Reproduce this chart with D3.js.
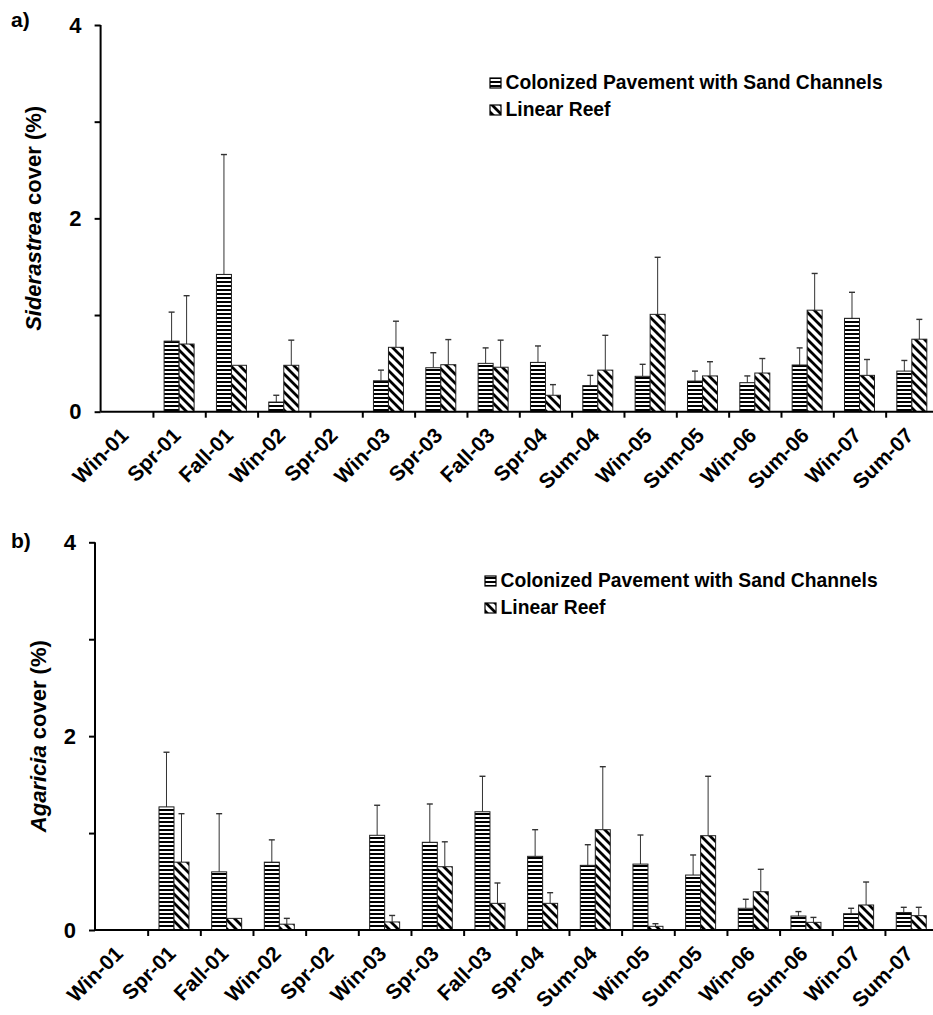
<!DOCTYPE html>
<html>
<head>
<meta charset="utf-8">
<script src="https://cdn.jsdelivr.net/npm/d3@7"></script>
<style>
  html, body { margin: 0; padding: 0; background: #fff; }
  svg { display: block; font-family: "Liberation Sans", Arial, sans-serif; }
</style>
</head>
<body>
<svg id="chart" width="933" height="1015"></svg>
<script>
// ---------------- data ----------------
const categories = ["Win-01","Spr-01","Fall-01","Win-02","Spr-02","Win-03","Spr-03","Fall-03","Spr-04","Sum-04","Win-05","Sum-05","Win-06","Sum-06","Win-07","Sum-07"];
const seriesNames = ["Colonized Pavement with Sand Channels", "Linear Reef"];
const yTicks = [0, 1, 2, 3, 4];
const yTickLabels = ["0", "", "2", "", "4"];

// Panel a: Siderastrea
const sidCP    = [0, 0.73, 1.42, 0.10, 0, 0.32, 0.455, 0.50, 0.51, 0.27, 0.366, 0.317, 0.30, 0.483, 0.966, 0.42];
const sidCPErr = [0, 0.30, 1.24, 0.07, 0, 0.11, 0.155, 0.16, 0.17, 0.106, 0.124, 0.103, 0.07, 0.177, 0.269, 0.11];
const sidLR    = [0, 0.70, 0.48, 0.48, 0, 0.666, 0.486, 0.46, 0.17, 0.43, 1.007, 0.37, 0.40, 1.05, 0.376, 0.75];
const sidLRErr = [0, 0.50, 0, 0.26, 0, 0.27, 0.26, 0.28, 0.11, 0.36, 0.59, 0.147, 0.15, 0.38, 0.164, 0.205];

// Panel b: Agaricia
const agaCP    = [0, 1.27, 0.60, 0.70, 0, 0.977, 0.905, 1.22, 0.76, 0.667, 0.68, 0.567, 0.224, 0.144, 0.168, 0.18];
const agaCPErr = [0, 0.564, 0.60, 0.23, 0, 0.31, 0.395, 0.366, 0.275, 0.213, 0.30, 0.207, 0.093, 0.046, 0.056, 0.054];
const agaLR    = [0, 0.70, 0.12, 0.06, 0, 0.083, 0.653, 0.275, 0.275, 1.035, 0.038, 0.973, 0.395, 0.079, 0.258, 0.148];
const agaLRErr = [0, 0.50, 0, 0.06, 0, 0.067, 0.257, 0.21, 0.11, 0.65, 0.027, 0.613, 0.231, 0.051, 0.237, 0.086];

// ---------------- drawing ----------------
const svg = d3.select("#chart");
const defs = svg.append("defs");

// horizontal stripes
const pH = defs.append("pattern").attr("id", "stripeH").attr("patternUnits", "userSpaceOnUse")
  .attr("width", 6).attr("height", 4);
pH.append("rect").attr("width", 6).attr("height", 4).attr("fill", "#fff");
pH.append("rect").attr("y", 1).attr("width", 6).attr("height", 2).attr("fill", "#000");

// diagonal "\" hatch
const pD = defs.append("pattern").attr("id", "hatchD").attr("patternUnits", "userSpaceOnUse")
  .attr("width", 9).attr("height", 9);
pD.append("rect").attr("width", 9).attr("height", 9).attr("fill", "#fff");
pD.append("path").attr("d", "M-2,-2 L11,11 M-2,7 L2,11 M7,-2 L11,2")
  .attr("stroke", "#000").attr("stroke-width", 2.8);

const fills = ["url(#stripeH)", "url(#hatchD)"];

const panels = [
  { label: "a)", labelX: 11, labelY: 27, x0: 100.6, x1: 938, yTop: 25, yBot: 411.7,
    cp: sidCP, cpErr: sidCPErr, lr: sidLR, lrErr: sidLRErr,
    titleItalic: "Siderastrea", titleRest: " cover (%)", titleX: 41,
    legX: 490, legY: 78 },
  { label: "b)", labelX: 11, labelY: 548, x0: 95, x1: 937.6, yTop: 542.3, yBot: 930,
    cp: agaCP, cpErr: agaCPErr, lr: agaLR, lrErr: agaLRErr,
    titleItalic: "Agaricia", titleRest: " cover (%)", titleX: 46,
    legX: 485, legY: 576 }
];

panels.forEach(p => {
  const g = svg.append("g");
  const x = d3.scaleBand().domain(categories).range([p.x0, p.x1]).padding(0);
  const xi = d3.scaleLinear().domain([0, categories.length]).range([p.x0, p.x1]);
  const y = d3.scaleLinear().domain([0, 4]).range([p.yBot, p.yTop]);
  const bw = 15;

  // bars
  const seriesVals = [p.cp, p.lr];
  const seriesErr = [p.cpErr, p.lrErr];
  seriesVals.forEach((vals, s) => {
    const data = categories.map((c, i) => ({ c, v: vals[i], e: seriesErr[s][i] })).filter(d => d.v > 0);
    const bx = d => x(d.c) + x.bandwidth() / 2 - bw + s * bw;
    // error bars
    const eb = g.append("g").selectAll("g").data(data.filter(d => d.e > 0)).join("g");
    eb.append("line")
      .attr("x1", d => bx(d) + bw / 2).attr("x2", d => bx(d) + bw / 2)
      .attr("y1", d => y(d.v)).attr("y2", d => y(d.v + d.e))
      .attr("stroke", "#333").attr("stroke-width", 1);
    eb.append("line")
      .attr("x1", d => bx(d) + bw / 2 - 3).attr("x2", d => bx(d) + bw / 2 + 3)
      .attr("y1", d => y(d.v + d.e)).attr("y2", d => y(d.v + d.e))
      .attr("stroke", "#333").attr("stroke-width", 1.4);
    g.append("g").selectAll("rect").data(data).join("rect")
      .attr("x", bx).attr("width", bw)
      .attr("y", d => y(d.v)).attr("height", d => y(0) - y(d.v))
      .attr("fill", fills[s]).attr("stroke", "#222").attr("stroke-width", 1);
  });

  // y axis
  const yAxis = g.append("g").attr("transform", `translate(${p.x0},0)`)
    .call(d3.axisLeft(y).tickValues(yTicks).tickSize(6).tickPadding(13)
      .tickFormat((d, i) => yTickLabels[i]));
  yAxis.select(".domain").attr("d", `M0,${p.yTop}V${p.yBot}`).attr("stroke-width", 2);
  yAxis.selectAll(".tick line").attr("stroke-width", 2);
  yAxis.selectAll("text").attr("font-size", 22).attr("font-weight", "bold")
    .attr("font-family", "Liberation Sans, Arial, sans-serif").attr("fill", "#000");

  // x axis with ticks at category boundaries
  const xAxis = g.append("g").attr("transform", `translate(0,${p.yBot})`)
    .call(d3.axisBottom(xi).tickValues(d3.range(1, categories.length + 1)).tickSize(6).tickFormat(""));
  xAxis.select(".domain").attr("d", `M${p.x0},0H${p.x1}`).attr("stroke-width", 2);
  xAxis.selectAll(".tick line").attr("stroke-width", 2);

  // category labels
  g.append("g").selectAll("text").data(categories).join("text")
    .attr("transform", d => `translate(${x(d) + x.bandwidth() / 2 + 3},${p.yBot + 25}) rotate(-45)`)
    .attr("text-anchor", "end")
    .attr("font-size", 21).attr("font-weight", "bold").text(d => d);

  // y title
  const t = g.append("text")
    .attr("transform", `translate(${p.titleX},${(p.yTop + p.yBot) / 2}) rotate(-90)`)
    .attr("text-anchor", "middle").attr("font-size", 22).attr("font-weight", "bold");
  t.append("tspan").attr("font-style", "italic").text(p.titleItalic);
  t.append("tspan").text(p.titleRest);

  // panel label
  g.append("text").attr("x", p.labelX).attr("y", p.labelY)
    .attr("font-size", 21).attr("font-weight", "bold").text(p.label);

  // legend
  const leg = g.append("g");
  seriesNames.forEach((name, i) => {
    const ly = p.legY + i * 27;
    leg.append("rect").attr("x", p.legX).attr("y", ly).attr("width", 11).attr("height", 10)
      .attr("fill", fills[i]).attr("stroke", "#000").attr("stroke-width", 1.2);
    leg.append("text").attr("x", p.legX + 15.5).attr("y", ly + 11)
      .attr("font-size", 19.3).attr("font-weight", "bold").text(name);
  });
});
</script>
</body>
</html>
